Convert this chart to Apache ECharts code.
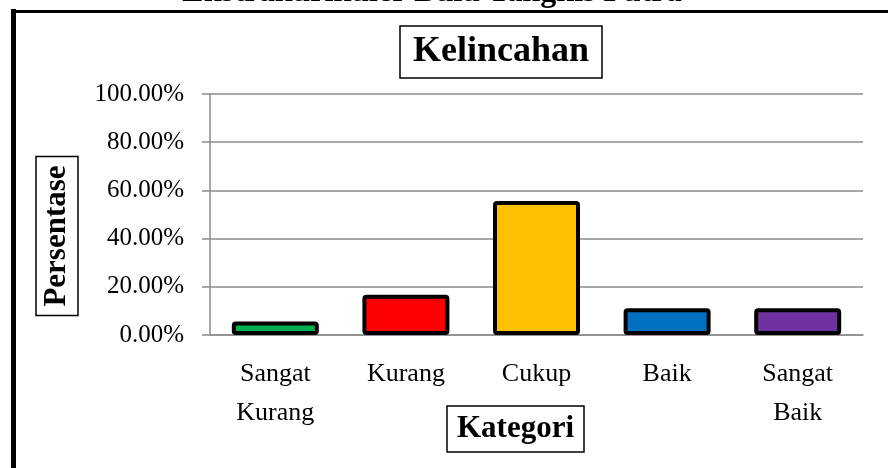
<!DOCTYPE html>
<html>
<head>
<meta charset="utf-8">
<script src="https://cdn.jsdelivr.net/npm/echarts@6/dist/echarts.min.js"></script>
<style>
  html, body { margin: 0; padding: 0; background: #fff; }
  #chart { width: 888px; height: 468px; }
</style>
</head>
<body>
<div id="chart"></div>
<script>
// data
var categories = ['Sangat\nKurang', 'Kurang', 'Cukup', 'Baik', 'Sangat\nBaik'];
var values = [5.56, 16.67, 55.56, 11.11, 11.11];
var barColors = ['#00B050', '#FF0000', '#FFC000', '#0070C0', '#7030A0'];

var serif = '"Liberation Serif", "Times New Roman", serif';
var gray = '#8c8c8c';

var myChart = echarts.init(document.getElementById('chart'));
myChart.setOption({
  animation: false,
  backgroundColor: '#fff',
  title: [{
    text: 'Kelincahan',
    left: 400,
    top: 26,
    padding: [6, 13],
    borderColor: '#000',
    borderWidth: 1.5,
    textStyle: { fontFamily: serif, fontSize: 36, fontWeight: 'bold', color: '#000', lineHeight: 40 }
  }, {
    text: 'Kategori',
    left: 447,
    top: 406,
    padding: [5, 10],
    borderColor: '#000',
    borderWidth: 1.5,
    textStyle: { fontFamily: serif, fontSize: 31, fontWeight: 'bold', color: '#000', lineHeight: 36 }
  }],
  graphic: [{
    type: 'text',
    x: 432,
    y: 9,
    style: {
      text: 'Ekstrakurikuler Bulu Tangkis Putra',
      font: 'bold 32px ' + serif,
      fill: '#000',
      textAlign: 'center',
      textVerticalAlign: 'bottom'
    }
  }, {
    // y axis title, boxed and turned
    type: 'text',
    x: 57,
    y: 236,
    rotation: Math.PI / 2,
    style: {
      text: 'Persentase',
      font: 'bold 31px ' + serif,
      fill: '#000',
      align: 'center',
      verticalAlign: 'middle',
      lineHeight: 34,
      padding: [4, 9],
      borderColor: '#000',
      borderWidth: 1.5
    }
  }, {
    type: 'line',
    shape: { x1: 13.5, y1: 9, x2: 13.5, y2: 470 },
    style: { stroke: '#000', lineWidth: 5 }
  }, {
    type: 'line',
    shape: { x1: 11, y1: 11.5, x2: 890, y2: 11.5 },
    style: { stroke: '#000', lineWidth: 3 }
  }],
  grid: { left: 210, right: 25, top: 94, bottom: 133 },
  xAxis: {
    type: 'category',
    data: categories,
    axisLine: { lineStyle: { color: gray, width: 1.5 } },
    axisTick: { show: false },
    axisLabel: { fontFamily: serif, fontSize: 26, color: '#000', lineHeight: 39, margin: 20, interval: 0 }
  },
  yAxis: {
    type: 'value',
    min: 0,
    max: 100,
    interval: 20,
    axisLine: { show: true, lineStyle: { color: gray, width: 1.5 } },
    axisTick: { show: true, length: 8, lineStyle: { color: gray, width: 1.5 } },
    splitLine: { lineStyle: { color: gray, width: 1.5 } },
    axisLabel: {
      fontFamily: serif, fontSize: 25, color: '#000', margin: 26,
      formatter: function (v) { return v.toFixed(2) + '%'; }
    }
  },
  series: [{
    type: 'bar',
    barWidth: 87,
    data: values.map(function (v, i) {
      return {
        value: v,
        itemStyle: { color: barColors[i], borderColor: '#000', borderWidth: 4, borderRadius: 2 }
      };
    })
  }]
});
</script>
</body>
</html>
